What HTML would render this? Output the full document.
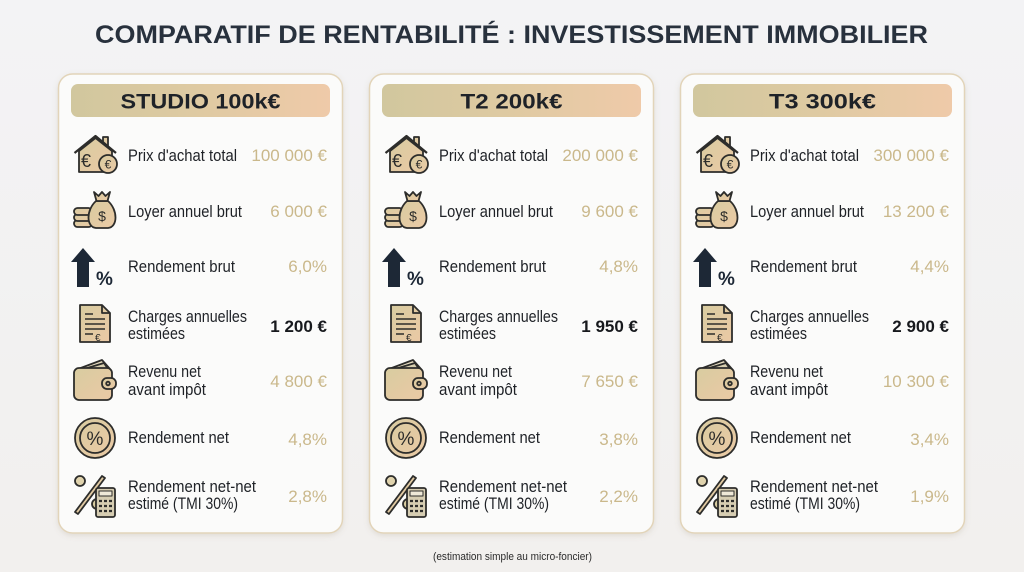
<!DOCTYPE html>
<html><head><meta charset="utf-8"><style>
html,body{margin:0;padding:0;background:#f2f2f3;}
svg{display:block;}
</style></head><body>
<svg width="1024" height="572" viewBox="0 0 1024 572" xmlns="http://www.w3.org/2000/svg" font-family="Liberation Sans, sans-serif">
<defs>
<linearGradient id="bg" x1="0" y1="0" x2="0" y2="1"><stop offset="0" stop-color="#f3f3f5"/><stop offset="1" stop-color="#f2f0ee"/></linearGradient>
<linearGradient id="hd" x1="0" y1="0" x2="1" y2="0"><stop offset="0" stop-color="#d1c79e"/><stop offset="0.5" stop-color="#dfcaa2"/><stop offset="1" stop-color="#efcaa9"/></linearGradient>
<linearGradient id="ic" x1="0" y1="0" x2="1" y2="1"><stop offset="0" stop-color="#d8cca0"/><stop offset="1" stop-color="#ebc9a5"/></linearGradient>
<filter id="sh" x="-10%" y="-10%" width="120%" height="120%"><feDropShadow dx="0" dy="2" stdDeviation="3" flood-color="#8a7a5a" flood-opacity="0.18"/></filter>
<g id="card">
  <rect x="58.5" y="74" width="284" height="459" rx="14" fill="#fbfbfa" stroke="#e2d4b9" stroke-width="1.5" filter="url(#sh)"/>
  <rect x="71" y="84" width="259" height="33" rx="7" fill="url(#hd)"/>
  <!-- house -->
  <g stroke="#2d2d2b" stroke-width="1.8" stroke-linejoin="round">
    <rect x="103" y="137" width="5" height="9" fill="url(#ic)"/>
    <path d="M79 151 V172 H112 V151 L95.5 138 Z" fill="url(#ic)"/>
    <path d="M74.5 153 L95.5 136 L116 153" fill="none" stroke-width="2.2"/>
    <circle cx="108" cy="164" r="9" fill="url(#ic)"/>
  </g>
  <text x="81" y="167" font-size="18" fill="#2d2d2b">€</text>
  <text x="108" y="168.5" font-size="12" fill="#2d2d2b" text-anchor="middle">€</text>
  <!-- money bag -->
  <g stroke="#2d2d2b" stroke-width="1.8" stroke-linejoin="round">
    <rect x="74" y="220" width="18" height="7" rx="3.5" fill="url(#ic)"/>
    <rect x="74" y="214" width="18" height="7" rx="3.5" fill="url(#ic)"/>
    <rect x="74" y="208" width="18" height="7" rx="3.5" fill="url(#ic)"/>
    <path d="M96 201 C86 210 86 227 96 228 H108 C118 227 118 210 108 201 Z" fill="url(#ic)"/>
    <path d="M94 192 L98.5 196 L102 192 L105.5 196 L110 192 L107.5 201 H96.5 Z" fill="url(#ic)"/>
  </g>
  <text x="102" y="221" font-size="14" fill="#2d2d2b" text-anchor="middle">$</text>
  <!-- arrow -->
  <path d="M83 248 L95 262 L89 262 L89 287 L77 287 L77 262 L71 262 Z" fill="#1d2836"/>
  <text x="96" y="285" font-size="19" font-weight="bold" fill="#1d2836">%</text>
  <!-- document -->
  <g stroke="#2d2d2b" stroke-width="1.8" stroke-linejoin="round">
    <path d="M80 305 H102 L110 313 V342 H80 Z" fill="url(#ic)"/>
    <path d="M102 305 V313 H110" fill="none"/>
    <path d="M85 314 H93 M85 319 H105 M85 324 H105 M85 329 H105 M85 334 H93" fill="none" stroke-width="1.5"/>
  </g>
  <text x="95" y="341" font-size="10" fill="#2d2d2b">€</text>
  <!-- wallet -->
  <g stroke="#2d2d2b" stroke-width="1.8" stroke-linejoin="round">
    <path d="M78 369 L102 360 L110 369 Z" fill="#e6dcc0"/>
    <path d="M84 369 L104 363 L108 369 Z" fill="#d8cfb0"/>
    <rect x="74" y="368" width="38" height="32" rx="5" fill="url(#ic)"/>
    <rect x="102" y="378" width="14" height="11" rx="5" fill="url(#ic)"/>
    <circle cx="108" cy="383.5" r="1.8" fill="none"/>
  </g>
  <!-- percent circle -->
  <g stroke="#2d2d2b" stroke-width="1.8">
    <circle cx="95" cy="438" r="20" fill="url(#ic)"/>
    <circle cx="95" cy="438" r="15" fill="none"/>
  </g>
  <text x="95" y="445" font-size="19" fill="#2d2d2b" text-anchor="middle">%</text>
  <!-- percent + calc -->
  <g stroke="#2d2d2b" stroke-width="1.8" stroke-linejoin="round">
    <circle cx="80" cy="481" r="5" fill="#e0d3ad"/>
    <path d="M75 512 L102 476 L105 478 L78 514 Z" fill="url(#ic)"/>
    <circle cx="97" cy="504" r="5" fill="#d8cca0"/>
    <rect x="96" y="488" width="19" height="29" rx="2" fill="#d6cdb2"/>
    <rect x="99" y="491" width="13" height="5" fill="#efe9d8" stroke-width="1"/>
    <path d="M99 501 h3 m2 0 h3 m2 0 h3 M99 506 h3 m2 0 h3 m2 0 h3 M99 511 h3 m2 0 h3 m2 0 h3" fill="none" stroke-width="2.2"/>
  </g>
</g>
</defs>
<rect width="1024" height="572" fill="url(#bg)"/>
<text x="95" y="43" font-size="25" font-weight="bold" fill="#28313d" textLength="833" lengthAdjust="spacingAndGlyphs">COMPARATIF DE RENTABILITÉ : INVESTISSEMENT IMMOBILIER</text>

<use href="#card"/>
<use href="#card" transform="translate(311,0)"/>
<use href="#card" transform="translate(622,0)"/>

<g font-size="21" font-weight="bold" fill="#1e2228" text-anchor="middle">
  <text x="200.5" y="108.5" textLength="160" lengthAdjust="spacingAndGlyphs">STUDIO 100k€</text>
  <text x="511.5" y="108.5" textLength="102" lengthAdjust="spacingAndGlyphs">T2 200k€</text>
  <text x="822.5" y="108.5" textLength="107" lengthAdjust="spacingAndGlyphs">T3 300k€</text>
</g>

<g id="labels" font-size="17" fill="#1e2126">
  <text x="128" y="161" textLength="109" lengthAdjust="spacingAndGlyphs">Prix d'achat total</text>
  <text x="128" y="217" textLength="114" lengthAdjust="spacingAndGlyphs">Loyer annuel brut</text>
  <text x="128" y="272" textLength="107" lengthAdjust="spacingAndGlyphs">Rendement brut</text>
  <text x="128" y="322" textLength="119" lengthAdjust="spacingAndGlyphs">Charges annuelles</text>
  <text x="128" y="339" textLength="57" lengthAdjust="spacingAndGlyphs">estimées</text>
  <text x="128" y="377" textLength="73" lengthAdjust="spacingAndGlyphs">Revenu net</text>
  <text x="128" y="395" textLength="78" lengthAdjust="spacingAndGlyphs">avant impôt</text>
  <text x="128" y="443" textLength="101" lengthAdjust="spacingAndGlyphs">Rendement net</text>
  <text x="128" y="492" textLength="128" lengthAdjust="spacingAndGlyphs">Rendement net-net</text>
  <text x="128" y="509" textLength="110" lengthAdjust="spacingAndGlyphs">estimé (TMI 30%)</text>
</g>
<use href="#labels" transform="translate(311,0)"/>
<use href="#labels" transform="translate(622,0)"/>

<g font-size="17" fill="#cab88b" text-anchor="end">
  <text x="327" y="161">100 000 €</text>
  <text x="327" y="217">6 000 €</text>
  <text x="327" y="272">6,0%</text>
  <text x="327" y="332" font-weight="bold" fill="#17191d">1 200 €</text>
  <text x="327" y="387">4 800 €</text>
  <text x="327" y="445">4,8%</text>
  <text x="327" y="502">2,8%</text>

  <text x="638" y="161">200 000 €</text>
  <text x="638" y="217">9 600 €</text>
  <text x="638" y="272">4,8%</text>
  <text x="638" y="332" font-weight="bold" fill="#17191d">1 950 €</text>
  <text x="638" y="387">7 650 €</text>
  <text x="638" y="445">3,8%</text>
  <text x="638" y="502">2,2%</text>

  <text x="949" y="161">300 000 €</text>
  <text x="949" y="217">13 200 €</text>
  <text x="949" y="272">4,4%</text>
  <text x="949" y="332" font-weight="bold" fill="#17191d">2 900 €</text>
  <text x="949" y="387">10 300 €</text>
  <text x="949" y="445">3,4%</text>
  <text x="949" y="502">1,9%</text>
</g>

<text x="512.5" y="560" font-size="11" fill="#2a2a2a" text-anchor="middle" textLength="159" lengthAdjust="spacingAndGlyphs">(estimation simple au micro-foncier)</text>
</svg>
</body></html>
